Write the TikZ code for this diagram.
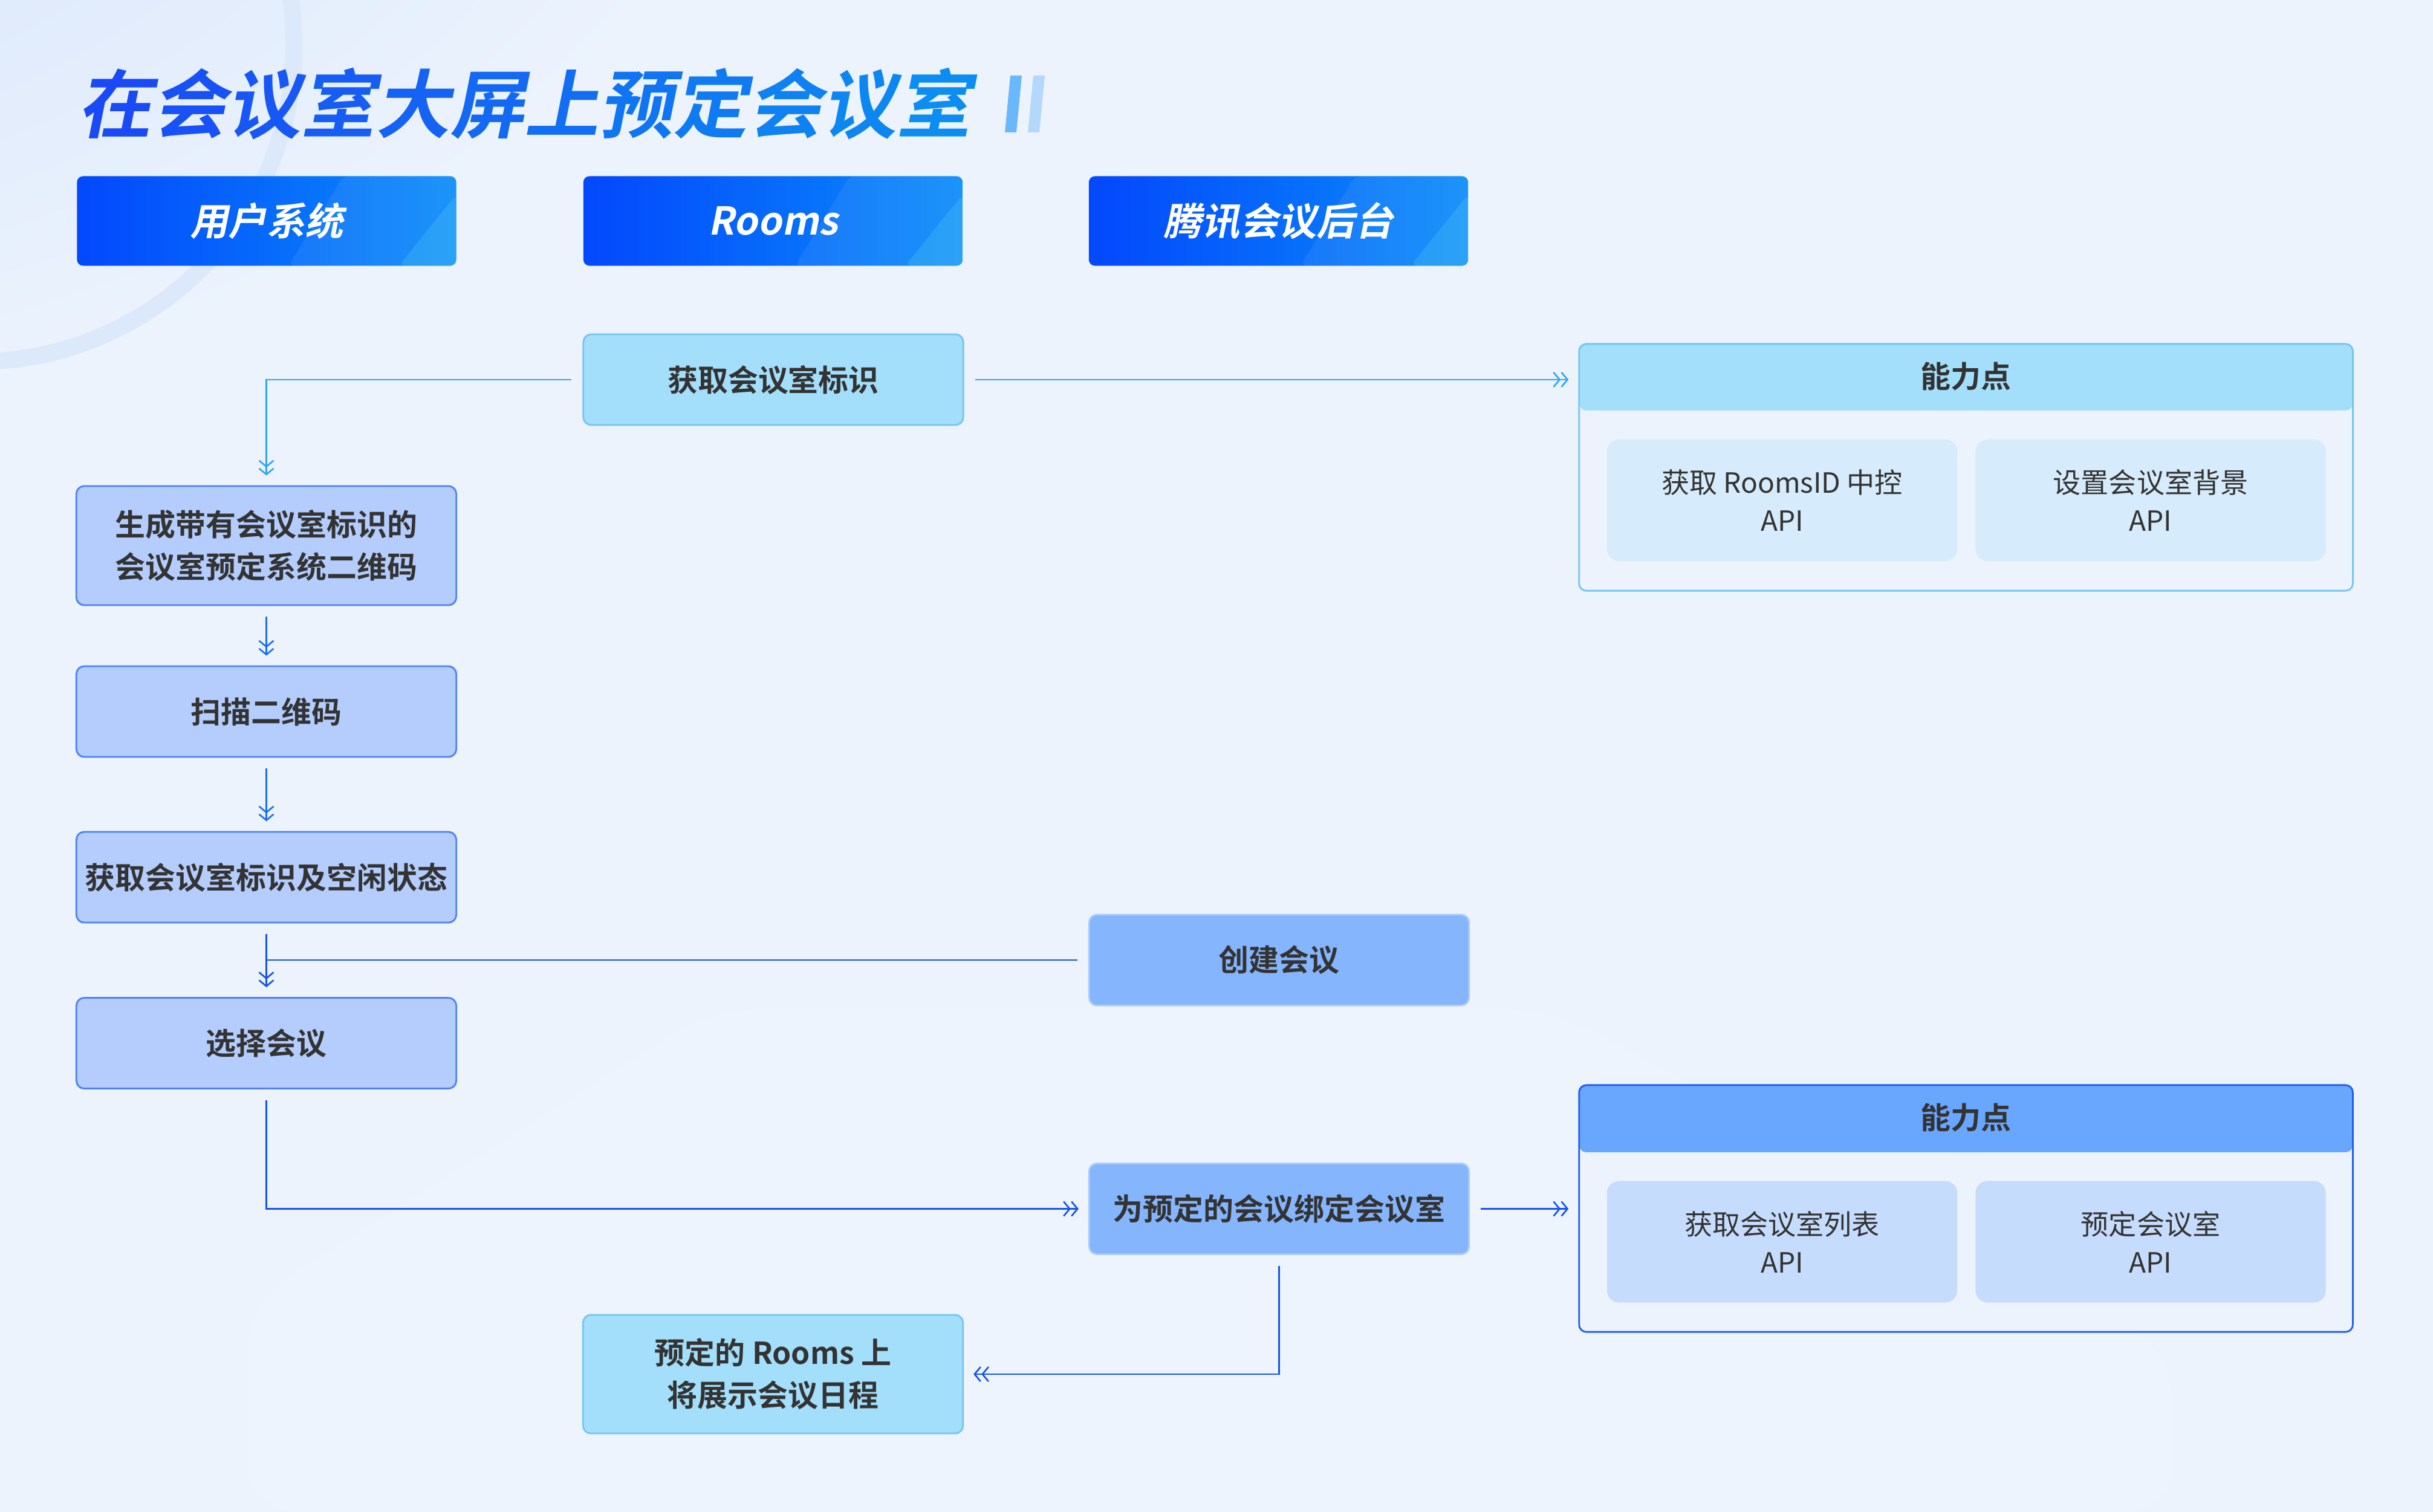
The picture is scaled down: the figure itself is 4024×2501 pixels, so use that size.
\documentclass[tikz,border=0pt]{standalone}
\usepackage{fontspec}
\setmainfont{Noto Sans CJK SC}[BoldFont={Noto Sans CJK SC Bold}]
\newfontfamily\ttlfont{Noto Sans CJK SC Bold}[FakeSlant=0.2]
\usetikzlibrary{arrows.meta}

\definecolor{bg}{HTML}{ECF3FD}
\definecolor{blob}{HTML}{CFDFFA}
\definecolor{ring}{HTML}{DCE9FB}
\definecolor{ttlL}{HTML}{1A4AF5}
\definecolor{ttlR}{HTML}{0B8DF2}
\definecolor{barA}{HTML}{6BB7FB}
\definecolor{barB}{HTML}{B3D8FB}
\definecolor{hdrL}{HTML}{0348FD}
\definecolor{hdrR}{HTML}{0A8CF9}
\definecolor{txt}{HTML}{333333}
\definecolor{usrF}{HTML}{B4CDFD}
\definecolor{usrD}{HTML}{4D82F5}
\definecolor{rmF}{HTML}{A3DFFB}
\definecolor{rmD}{HTML}{72C5F7}
\definecolor{txF}{HTML}{84B5FD}
\definecolor{capA}{HTML}{A3DFFB}
\definecolor{capAin}{HTML}{D6EBFB}
\definecolor{capB}{HTML}{69A6FE}
\definecolor{capBd}{HTML}{1E5EF0}
\definecolor{capBin}{HTML}{C5DCFC}
\definecolor{lite}{HTML}{2CA6F5}
\definecolor{mid}{HTML}{1A70F2}
\definecolor{deep}{HTML}{1553EE}

\pgfdeclareradialshading{tlblob}{\pgfpoint{-44bp}{46bp}}{color(0bp)=(blob); color(8bp)=(blob); color(24bp)=(bg); color(100bp)=(bg)}

\tikzset{
  box/.style={rounded corners=1.3mm, minimum width=6.28cm, minimum height=1.5cm,
    align=center, text=txt, line width=0.8pt,
    font=\bfseries\fontsize{14.2}{19.9}\selectfont},
  usrbox/.style={box, fill=usrF, draw=usrD},
  roombox/.style={box, fill=rmF, draw=rmD},
  txbox/.style={box, fill=txF, draw=txF!70!white},
  hdr/.style={rounded corners=1mm, minimum width=6.27cm, minimum height=1.48cm,
    left color=hdrL, right color=hdrR, text=white,
    font=\ttlfont\fontsize{18}{20}\selectfont,
    path picture={
      \fill[white,opacity=.07] ([xshift=-1.87cm]path picture bounding box.north east)
        -- (path picture bounding box.north east) -- (path picture bounding box.south east)
        -- ([xshift=-2.77cm]path picture bounding box.south east) -- cycle;
      \fill[cyan!70!white,opacity=.3] ([yshift=-0.3cm]path picture bounding box.north east)
        -- (path picture bounding box.south east)
        -- ([xshift=-0.95cm]path picture bounding box.south east) -- cycle;}},
  capbox/.style={rounded corners=1.2mm, minimum width=12.79cm, minimum height=4.08cm,
    fill=bg, line width=0.8pt},
  captitle/.style={text=txt, font=\bfseries\fontsize{14.2}{16}\selectfont},
  api/.style={rounded corners=2mm, minimum width=5.79cm, minimum height=2.01cm,
    align=center, text=txt, font=\fontsize{13.1}{17.9}\selectfont},
  link/.style={line width=.75pt, shorten <=1.8mm, shorten >=1.6mm},
  arr/.style={-{Straight Barb[length=1mm,width=2.4mm]Straight Barb[length=1mm,width=2.4mm]}},
}

\begin{document}
\begin{tikzpicture}[x=0.01cm, y=-0.01cm]
\useasboundingbox (0,0) rectangle (4024,2501);
\shade[shading=tlblob] (0,0) rectangle (4024,2501);
\draw[ring, line width=2.8mm] (-39,73) circle[radius=5.25cm];
\fill[white, opacity=.15, rounded corners=8mm] (410,2501) -- (410,2155) -- (1180,1668)
  -- (2566,1668) -- (3592,2232) -- (3592,2501) -- cycle;

% title
\node[anchor=west, inner sep=0, font=\ttlfont\fontsize{35}{40}\selectfont] (ttl) at (128,172)
  {\foreach \zi [count=\i] in {在,会,议,室,大,屏,上,预,定,会,议,室}{\pgfmathtruncatemacro\p{100-(\i-1)*100/11}\color{ttlL!\p!ttlR}\zi}};
\fill[barA] (1671,125) -- (1690,125) -- (1681,219) -- (1662,219) -- cycle;
\fill[barB] (1709,125) -- (1728,125) -- (1719,219) -- (1700,219) -- cycle;

\node[hdr] (usr) at (441,365.5) {用户系统};
\node[hdr] (rooms) at (1278.5,365.5) {Rooms};
\node[hdr] (tx) at (2114.5,365.5) {腾讯会议后台};

\node[roombox] (getid) at (1279,628) {获取会议室标识};
\node[usrbox, minimum height=1.97cm] (qrgen) at (440.5,902.5) {生成带有会议室标识的\\会议室预定系统二维码};
\node[usrbox] (scan) at (440.5,1177) {扫描二维码};
\node[usrbox] (getstate) at (440.5,1451) {获取会议室标识及空闲状态};
\node[usrbox] (pick) at (440.5,1725.5) {选择会议};
\node[txbox] (create) at (2115.5,1588) {创建会议};
\node[txbox] (bind) at (2115.5,1999.5) {为预定的会议绑定会议室};
\node[roombox, minimum height=1.96cm] (show) at (1278.5,2273) {预定的 Rooms 上\\将展示会议日程};

% capability panels
\node[capbox, draw=rmD, path picture={\fill[capA] (path picture bounding box.north west)
  rectangle ([yshift=-1.1cm]path picture bounding box.north east);}] (cap1) at (3251.5,773) {};
\node[captitle] (cap1t) at ([yshift=-0.55cm]cap1.north) {能力点};
\node[api, fill=capAin] (api1) at (2947.5,827.5) {获取 RoomsID 中控\\API};
\node[api, fill=capAin] (api2) at (3557,827.5) {设置会议室背景\\API};

\node[capbox, draw=capBd, path picture={\fill[capB] (path picture bounding box.north west)
  rectangle ([yshift=-1.11cm]path picture bounding box.north east);}] (cap2) at (3251.5,1999) {};
\node[captitle] (cap2t) at ([yshift=-0.555cm]cap2.north) {能力点};
\node[api, fill=capBin] (api3) at (2947.5,2054) {获取会议室列表\\API};
\node[api, fill=capBin] (api4) at (3557,2054) {预定会议室\\API};

% connectors
\draw[link, lite, arr] (getid) -| (qrgen);
\draw[link, lite, arr] (getid) -- (getid -| cap1.west);
\draw[link, mid, arr] (qrgen) -- (scan);
\draw[link, mid, arr] (scan) -- (getstate);
\draw[link, deep, arr] (getstate) -- (pick);
\draw[link, deep, shorten >=0pt] (create) -- (create -| pick);
\draw[link, deep, arr] (pick) |- (bind);
\draw[link, deep, arr] (bind) -- (bind -| cap2.west);
\draw[link, deep, arr] (bind) |- (show);
\end{tikzpicture}
\end{document}
